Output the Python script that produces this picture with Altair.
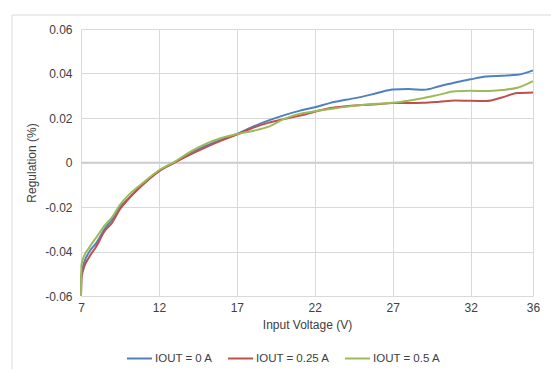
import altair as alt
import pandas as pd

# Input voltage sweep (V)
vin = [7, 7.03, 7.2, 7.5, 8, 8.5, 9, 9.5, 10, 11, 12, 13, 14, 15, 16, 17, 18, 19, 20,
       21, 22, 23, 24, 25, 26, 27, 28, 29, 30, 31, 32, 33, 34, 35, 36]

# Line regulation (%) for each load current
reg_0a = [-0.060, -0.050, -0.045, -0.0405, -0.036, -0.030, -0.0255, -0.020, -0.0165,
          -0.0095, -0.0038, 0.0000, 0.0042, 0.0075, 0.0103, 0.0128, 0.0160, 0.0188,
          0.0212, 0.0232, 0.0248, 0.0268, 0.0282, 0.0295, 0.0312, 0.0328, 0.0330,
          0.0327, 0.0343, 0.0360, 0.0374, 0.0386, 0.0390, 0.0394, 0.0414]
reg_025a = [-0.060, -0.052, -0.047, -0.0428, -0.0375, -0.031, -0.027, -0.021, -0.0168,
            -0.0098, -0.0040, -0.0001, 0.0035, 0.0068, 0.0098, 0.0125, 0.0155, 0.0178,
            0.0195, 0.0210, 0.0228, 0.0245, 0.0253, 0.0258, 0.0262, 0.0267, 0.0267,
            0.0268, 0.0273, 0.0279, 0.0277, 0.0276, 0.0292, 0.0312, 0.0315]
reg_05a = [-0.060, -0.046, -0.042, -0.0385, -0.0335, -0.0285, -0.0245, -0.019, -0.015,
           -0.0090, -0.0035, 0.0003, 0.0048, 0.0084, 0.0110, 0.0128, 0.0142, 0.0160,
           0.0195, 0.0218, 0.0230, 0.0240, 0.0250, 0.0258, 0.0264, 0.0268, 0.0278,
           0.0290, 0.0305, 0.0320, 0.0322, 0.0321, 0.0326, 0.0336, 0.0366]

series_names = ["IOUT = 0 A", "IOUT = 0.25 A", "IOUT = 0.5 A"]
series_colors = ["#4F81BD", "#C0504D", "#9BBB59"]
x_ticks = [7, 12, 17, 22, 27, 32, 36]
y_ticks = [-0.06, -0.04, -0.02, 0, 0.02, 0.04, 0.06]

rows = []
for name, vals in zip(series_names, [reg_0a, reg_025a, reg_05a]):
    for i, (v, r) in enumerate(zip(vin, vals)):
        rows.append({"vin": v, "reg": r, "series": name, "order": i})
df = pd.DataFrame(rows)

FONT = "Liberation Sans"
GRID = "#d9d9d9"
TEXT = "#404040"

# Outer frame around the whole chart area
frame = alt.Chart(pd.DataFrame({"k": [0]})).mark_rect(
    fill=None, stroke=GRID, strokeWidth=1
).encode(
    x=alt.value(-69), x2=alt.value(480), y=alt.value(-14), y2=alt.value(350)
)

zero_line = alt.Chart(pd.DataFrame({"y": [0]})).mark_rule(
    color="#cccccc", strokeWidth=1.5
).encode(y=alt.Y("y:Q", scale=alt.Scale(domain=[-0.06, 0.06])))

lines = alt.Chart(df).mark_line(
    strokeWidth=2, interpolate="monotone"
).encode(
    x=alt.X(
        "vin:Q",
        title="Input Voltage (V)",
        scale=alt.Scale(domain=[7, 36], nice=False, zero=False),
        axis=alt.Axis(values=x_ticks, labelPadding=6, titlePadding=6, labelFlush=False),
    ),
    y=alt.Y(
        "reg:Q",
        title="Regulation (%)",
        scale=alt.Scale(domain=[-0.06, 0.06], nice=False),
        axis=alt.Axis(
            values=y_ticks,
            labelPadding=9,
            titlePadding=6,
            labelExpr="abs(datum.value) < 1e-9 ? '0' : (datum.value < 0 ? '-' : '') + format(abs(datum.value), '.2f')",
        ),
    ),
    color=alt.Color(
        "series:N",
        scale=alt.Scale(domain=series_names, range=series_colors),
        legend=alt.Legend(
            title=None,
            orient="none",
            legendX=45,
            legendY=316,
            direction="horizontal",
            symbolType="stroke",
            symbolSize=625,
            symbolStrokeWidth=2,
            labelOffset=2,
            columnPadding=11,
            labelFont=FONT,
            labelFontSize=11.5,
            labelColor=TEXT,
        ),
    ),
    order="order:Q",
)

chart = alt.layer(frame, zero_line, lines).properties(
    width=452,
    height=267,
    autosize=alt.AutoSizeParams(type="none"),
    padding={"left": 81, "top": 29, "right": 18, "bottom": 73},
    background="white",
).configure_view(stroke=None).configure_axis(
    grid=True,
    gridColor=GRID,
    gridWidth=1,
    domain=False,
    ticks=False,
    labelFont=FONT,
    labelFontSize=12,
    labelColor=TEXT,
    titleFont=FONT,
    titleFontSize=12,
    titleFontWeight="normal",
    titleColor=TEXT,
)

chart.save("out.html", embed_options={"renderer": "svg", "actions": False})
